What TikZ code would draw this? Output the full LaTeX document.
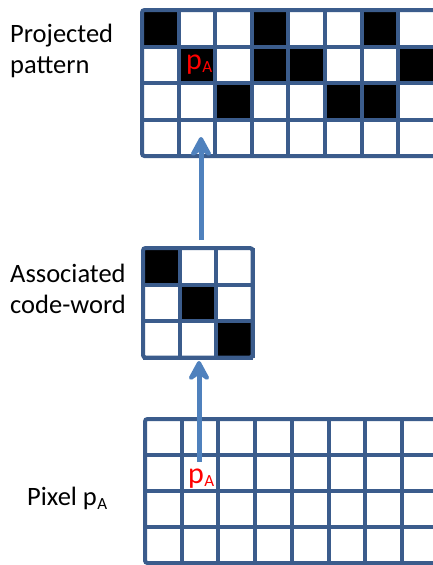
\documentclass[tikz,border=0pt]{standalone}
\usepackage{fontspec}
\setmainfont{Carlito}
\usetikzlibrary{arrows.meta}
\definecolor{gridblue}{RGB}{59,92,140}
\definecolor{arrowblue}{RGB}{79,129,189}
\definecolor{pred}{RGB}{255,0,0}
% p with a small lowered A
\newcommand{\pAsub}[2]{p\kern0.5pt{\fontsize{#1}{#1}\selectfont\raisebox{-#2}{A}}}
\tikzset{
  gridline/.style={draw=gridblue, line width=4pt},
  gridframe/.style={draw=gridblue, line width=4pt, rounded corners=2.5pt},
  flow/.style={draw=arrowblue, line width=5pt,
    -{Stealth[length=25pt, width=27pt, inset=9pt, round]}},
  label/.style={font=\fontsize{26.5}{31}\selectfont, align=left, inner sep=0pt},
  tag/.style={text=pred, inner sep=0pt, anchor=base west}
}
\newcommand{\cellgrid}[5]{% origin x, origin y, columns, rows, cell size
  \foreach \i in {1,...,#3}{\draw[gridline] ({#1+\i*#5},#2) -- ({#1+\i*#5},{#2+#4*#5});}
  \foreach \j in {1,...,#4}{\draw[gridline] (#1,{#2+\j*#5}) -- ({#1+#3*#5},{#2+\j*#5});}
  \draw[gridframe] (#1,#2) rectangle ({#1+#3*#5},{#2+#4*#5});
}
\begin{document}
\begin{tikzpicture}[x=1pt,y=-1pt]
\useasboundingbox (0,0) rectangle (433,565);
\clip (0,0) rectangle (433,565);
\fill[white] (0,0) rectangle (433,565);

% projected pattern (continues past the right edge)
\foreach \r/\c in {1/1,1/4,1/7,2/2,2/4,2/5,2/8,3/3,3/6,3/7}
  \fill[black] ({142+(\c-1)*36.6},{10+(\r-1)*36.5}) rectangle ++(36.6,36.5);
\begin{scope}
  \foreach \i in {1,...,9}{\draw[gridline] ({142+\i*36.6},10) -- ({142+\i*36.6},156);}
  \foreach \j in {1,...,3}{\draw[gridline] (142,{10+\j*36.5}) -- (480,{10+\j*36.5});}
  \draw[gridframe] (142,10) rectangle (480,156);
\end{scope}
\node[tag, font=\fontsize{30}{30}\selectfont] (pA-pat) at (186,69) {\pAsub{17}{3pt}};

% associated code-word
\foreach \k in {0,1,2}
  \fill[black] ({143+\k*36.5},{248+\k*36.5}) rectangle ++(36.5,36.5);
\cellgrid{143}{248}{3}{3}{36.5}

% camera pixels (continue past the right and bottom edges)
\begin{scope}
  \foreach \i in {1,...,9}{\draw[gridline] ({145+\i*36.7},419) -- ({145+\i*36.7},600);}
  \foreach \j in {1,...,3}{\draw[gridline] (145,{419+\j*36}) -- (480,{419+\j*36});}
  \draw[gridframe] (145,419) rectangle (480,563);
\end{scope}
\node[tag, font=\fontsize{30}{30}\selectfont] (pA-pix) at (188,483) {\pAsub{17}{3pt}};

% arrows between the levels
\coordinate (pix-start) at (199,462);
\coordinate (cw-bottom) at (199,361);
\coordinate (cw-top) at (201,240);
\coordinate (pat-cell) at (201,137);
\draw[flow] (pix-start) -- (cw-bottom);
\draw[flow] (cw-top) -- (pat-cell);

% labels (anchored on the baseline of their last line)
\node[label, anchor=base west] (lbl-pat) at (10,73) {Projected\\pattern};
\node[label, anchor=base west] (lbl-cw) at (10,313) {Associated\\code-word};
\node[label, anchor=base west] (lbl-pix) at (27,505) {Pixel \pAsub{17}{4pt}};
\end{tikzpicture}
\end{document}
